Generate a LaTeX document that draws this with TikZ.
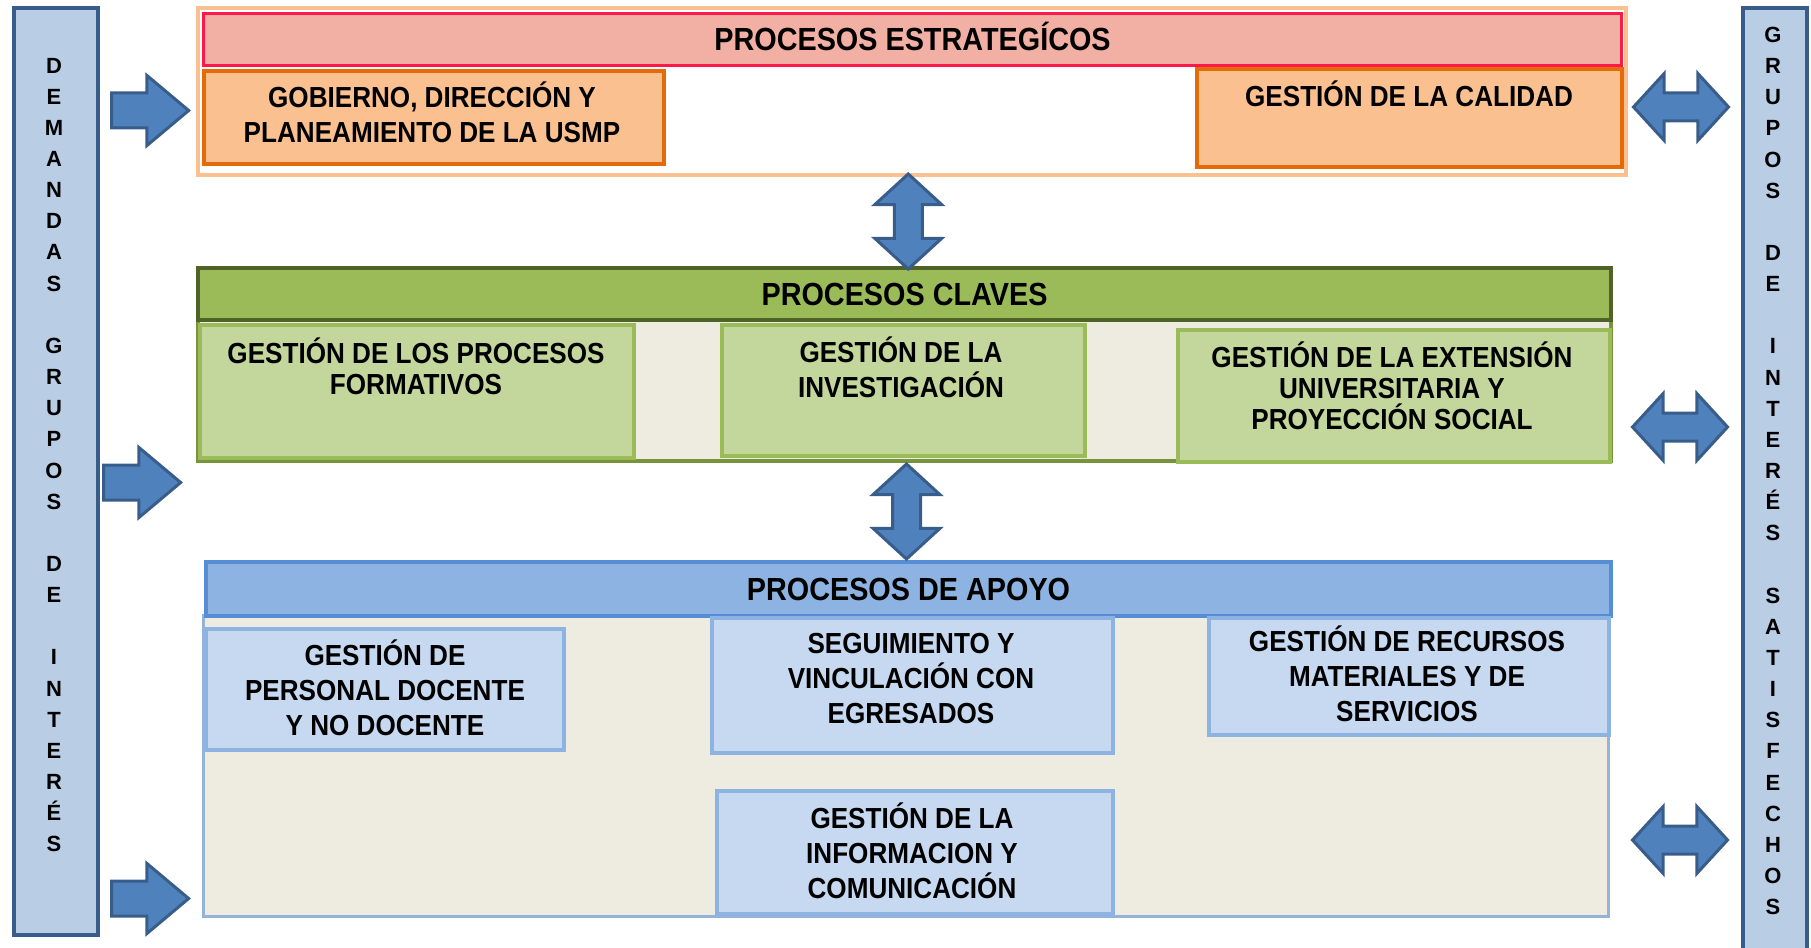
\documentclass[tikz,border=0pt]{standalone}
\usepackage{fontspec}
\setmainfont{Liberation Sans}
\newfontfamily\narrowfont{Liberation Sans}[FakeStretch=0.9]
\usepackage{tikz}
\usetikzlibrary{calc}
\usetikzlibrary{shapes}
\usetikzlibrary{shapes.arrows}
\usetikzlibrary{positioning}

\definecolor{barfill}{RGB}{185,205,229}
\definecolor{barline}{RGB}{56,93,138}
\definecolor{arrowfill}{RGB}{79,129,189}
\definecolor{orangelight}{RGB}{250,192,144}
\definecolor{orangedark}{RGB}{227,108,9}
\definecolor{redfill}{RGB}{242,175,163}
\definecolor{redline}{RGB}{255,25,75}
\definecolor{greenhead}{RGB}{155,187,89}
\definecolor{greendark}{RGB}{79,98,40}
\definecolor{greenmid}{RGB}{119,147,60}
\definecolor{greenbox}{RGB}{195,214,155}
\definecolor{panel}{RGB}{238,236,225}
\definecolor{bluehead}{RGB}{141,179,226}
\definecolor{blueline}{RGB}{85,142,213}
\definecolor{bluepanel}{RGB}{149,179,215}
\definecolor{bluebox}{RGB}{198,217,241}

\tikzstyle{box} = [rectangle, inner sep=0pt, anchor=north west]
\tikzstyle{txt} = [align=center, inner sep=0pt, font=\narrowfont\bfseries\fontsize{29}{35}\selectfont]
\tikzstyle{tighttxt} = [align=center, inner sep=0pt, font=\narrowfont\bfseries\fontsize{29}{31}\selectfont]
\tikzstyle{headtxt} = [font=\narrowfont\bfseries\fontsize{32}{38}\selectfont]
\tikzstyle{sidetxt} = [align=center, inner sep=0pt, font=\bfseries\fontsize{22}{31.15}\selectfont]
\tikzstyle{onearrow} = [single arrow, fill=arrowfill, draw=barline, line width=3pt, inner xsep=0pt, inner ysep=16pt, single arrow head extend=17.5pt, single arrow tip angle=80, minimum height=77pt, anchor=tip]
\tikzstyle{twoarrow} = [double arrow, fill=arrowfill, draw=barline, line width=3pt, inner xsep=0pt, inner ysep=12.5pt, double arrow head extend=19.5pt, double arrow tip angle=95, minimum height=95pt]

\begin{document}
\begin{tikzpicture}[x=1pt, y=-1pt]
\useasboundingbox (0,0) rectangle (1811,947);

% side bars
\node [box, fill=barfill, draw=barline, line width=4pt, minimum width=84pt, minimum height=927pt] (leftBar) at (12,6) {};
\node [box, fill=barfill, draw=barline, line width=4pt, minimum width=64pt, minimum height=954pt] (rightBar) at (1741,6) {};
\node [sidetxt] (leftT) at (54,455) {D\\E\\M\\A\\N\\D\\A\\S\\~\\G\\R\\U\\P\\O\\S\\~\\D\\E\\~\\I\\N\\T\\E\\R\\É\\S};
\node [sidetxt] (rightT) at (1773,471) {G\\R\\U\\P\\O\\S\\~\\D\\E\\~\\I\\N\\T\\E\\R\\É\\S\\~\\S\\A\\T\\I\\S\\F\\E\\C\\H\\O\\S};

% procesos estrategicos
\node [box, fill=white, draw=orangelight, line width=4pt, minimum width=1428pt, minimum height=167pt] (stratFrame) at (196,6) {};
\node [box, fill=redfill, draw=redline, line width=3pt, minimum width=1418pt, minimum height=52pt, headtxt] (stratHead) at (202,12) {\raisebox{-11.5pt}[0pt][0pt]{PROCESOS ESTRATEGÍCOS}};
\node [box, fill=orangelight, draw=orangedark, line width=4pt, minimum width=460pt, minimum height=93pt] (gob) at (202,69) {};
\node [box, fill=orangelight, draw=orangedark, line width=4pt, minimum width=425pt, minimum height=98pt] (cal) at (1195,67) {};
\node [txt] (gobT) at (432,112) {GOBIERNO, DIRECCIÓN Y\\PLANEAMIENTO DE LA USMP};
\node [txt] (calT) at (1409,94) {GESTIÓN DE LA CALIDAD};

% procesos claves
\node [box, fill=panel, draw=greenmid, line width=4pt, minimum width=1413pt, minimum height=141pt] (clavPanel) at (196,318) {};
\node [box, fill=greenhead, draw=greendark, line width=4pt, minimum width=1413pt, minimum height=52pt, headtxt] (clavHead) at (196,266) {PROCESOS CLAVES};
\node [box, fill=greenbox, draw=greenhead, line width=4pt, minimum width=434pt, minimum height=133pt] (form) at (198,323) {};
\node [box, fill=greenbox, draw=greenhead, line width=4pt, minimum width=363pt, minimum height=131pt] (inv) at (720,323) {};
\node [box, fill=greenbox, draw=greenhead, line width=4pt, minimum width=432pt, minimum height=132pt] (ext) at (1176,328) {};
\node [tighttxt] (formT) at (416,366) {GESTIÓN DE LOS PROCESOS\\FORMATIVOS};
\node [txt] (invT) at (901,367) {GESTIÓN DE LA\\INVESTIGACIÓN};
\node [tighttxt] (extT) at (1392,386) {GESTIÓN DE LA EXTENSIÓN\\UNIVERSITARIA Y\\PROYECCIÓN SOCIAL};

% procesos de apoyo
\node [box, fill=panel, draw=bluepanel, line width=3pt, minimum width=1405pt, minimum height=301pt] (apoPanel) at (202,614) {};
\node [box, fill=bluehead, draw=blueline, line width=4pt, minimum width=1405pt, minimum height=54pt, headtxt] (apoHead) at (204,560) {PROCESOS DE APOYO};
\node [box, fill=bluebox, draw=bluehead, line width=4pt, minimum width=358pt, minimum height=121pt] (pers) at (204,627) {};
\node [box, fill=bluebox, draw=bluehead, line width=4pt, minimum width=401pt, minimum height=135pt] (seg) at (710,616) {};
\node [box, fill=bluebox, draw=bluehead, line width=4pt, minimum width=400pt, minimum height=117pt] (rec) at (1207,616) {};
\node [box, fill=bluebox, draw=bluehead, line width=4pt, minimum width=396pt, minimum height=123pt] (info) at (715,789) {};
\node [txt] (persT) at (385,688) {GESTIÓN DE\\PERSONAL DOCENTE\\Y NO DOCENTE};
\node [txt] (segT) at (911,678.5) {SEGUIMIENTO Y\\VINCULACIÓN CON\\EGRESADOS};
\node [txt] (recT) at (1407,674) {GESTIÓN DE RECURSOS\\MATERIALES Y DE\\SERVICIOS};
\node [txt] (infoT) at (912,851) {GESTIÓN DE LA\\INFORMACION Y\\COMUNICACIÓN};

% flechas
\node [onearrow] (inArr1) at (191,110.5) {};
\node [onearrow] (inArr2) at (183,482.5) {};
\node [onearrow] (inArr3) at (191,898.5) {};
\node [twoarrow] (outArr1) at (1681,107) {};
\node [twoarrow] (outArr2) at (1680,427) {};
\node [twoarrow] (outArr3) at (1680,840) {};
\node [twoarrow, rotate=90] (upArr1) at ($(stratFrame.south)!0.5!(clavHead.north)$) {};
\node [twoarrow, rotate=90] (upArr2) at ($(clavPanel.south)!0.5!(apoHead.north)$) {};
\end{tikzpicture}
\end{document}
